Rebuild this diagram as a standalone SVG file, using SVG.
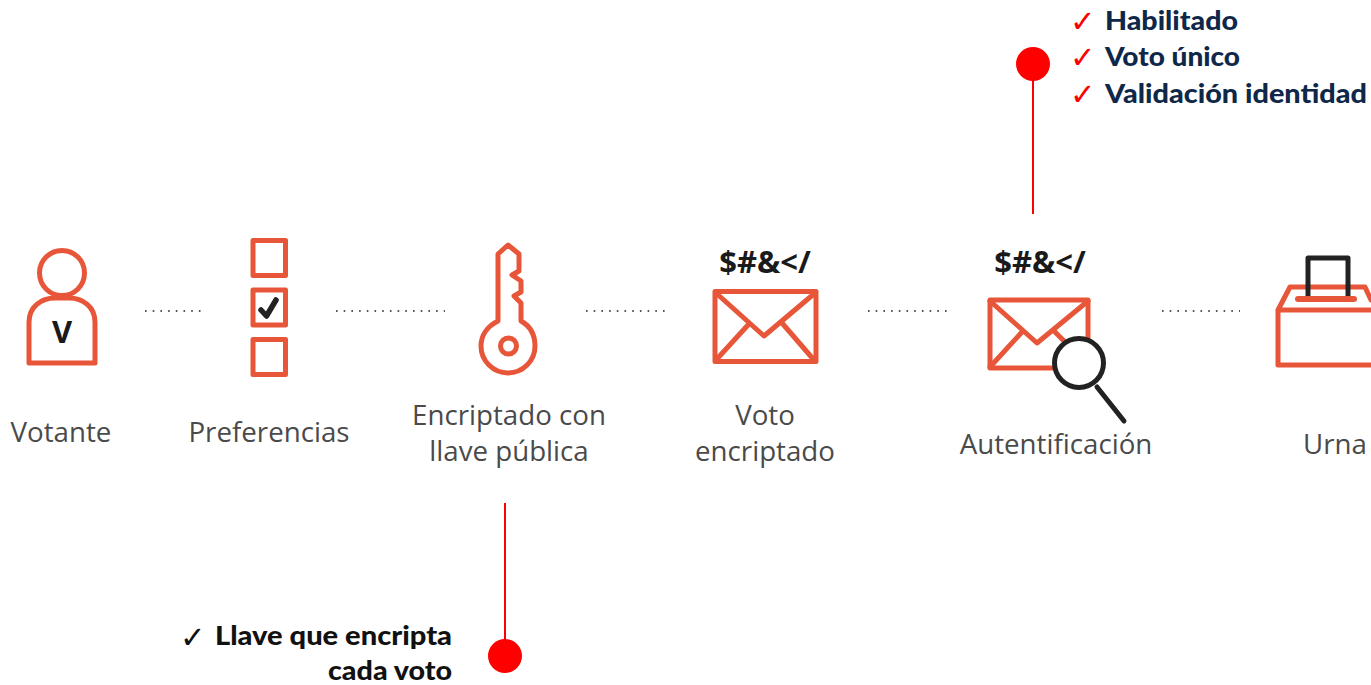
<svg xmlns="http://www.w3.org/2000/svg" width="1371" height="685" viewBox="0 0 1371 685">
<style>
.o{fill:none;stroke:#e8563a;stroke-width:5;stroke-linejoin:round;stroke-linecap:round}
.k{fill:none;stroke:#222;stroke-width:5;stroke-linejoin:round;stroke-linecap:round}
.l{font-family:"Open Sans",sans-serif;font-size:27.7px;fill:#4a4a4a;text-anchor:middle}
.c{font-family:"Open Sans",sans-serif;font-weight:700;font-size:31px;fill:#1a1a1a;text-anchor:middle}
.b{font-family:Lato,"Liberation Sans",sans-serif;font-weight:900;font-size:26px}
.n{fill:#0f2748}
.t{font-family:"DejaVu Sans",sans-serif;font-size:30.5px;font-weight:700}
.d{stroke:#555;stroke-width:2;stroke-dasharray:1.6 6.1;fill:none}
.r{stroke:#f00;stroke-width:2;fill:none}
</style>
<rect width="1371" height="685" fill="#fff"/>
<g id="connectors">
<path class="d" d="M145 311H203"/>
<path class="d" d="M336 311H445"/>
<path class="d" d="M586 311H665"/>
<path class="d" d="M868 311H947"/>
<path class="d" d="M1162 311H1240"/>
<path class="r" d="M1033 80V214"/>
<path class="r" d="M505 503V640"/>
</g>
<g id="votante">
<circle class="o" cx="62" cy="273" r="22.500"/>
<path class="o" d="M29 363V322C29 307 41 298 55 298H69C83 298 95 307 95 322V363Z"/>
<text class="c" x="62" y="343" style="font-size:31px">V</text>
<text class="l" x="61" y="442">Votante</text>
</g>
<g id="preferencias">
<rect class="o" x="253" y="240.500" width="32.500" height="35"/>
<rect class="o" x="253" y="290" width="32.500" height="35"/>
<rect class="o" x="253" y="339.500" width="32.500" height="35"/>
<path d="M261 310L266.500 316L276 300" fill="none" stroke="#222" stroke-width="5.500" stroke-linecap="round" stroke-linejoin="round"/>
<text class="l" x="269" y="442">Preferencias</text>
</g>
<g id="encriptado">
<path class="o" d="M498 321V254L508 245L519 254V271L512 275L521 281V292L514 296L521 303V321C530 326 535 335 535 346A27 27 0 0 1 481 346C481 335 488 326 498 321Z"/>
<circle class="o" cx="508.500" cy="346" r="8"/>
<text class="l" x="509" y="425">Encriptado con</text>
<text class="l" x="509" y="461">llave pública</text>
</g>
<g id="voto">
<text class="c" x="765" y="273">$#&amp;&lt;/</text>
<rect class="o" x="715" y="291.500" width="101" height="70"/>
<path class="o" d="M716 293L764 336L815 293M716 360L748 325M814 360L782 323"/>
<text class="l" x="765" y="425">Voto</text>
<text class="l" x="765" y="461">encriptado</text>
</g>
<g id="autentificacion">
<text class="c" x="1040" y="273">$#&amp;&lt;/</text>
<path class="o" d="M1054 368H990V300H1088V338"/>
<path class="o" d="M990 301L1037 343L1088 301M990 367L1022 332M1055 332L1065 342"/>
<circle class="k" cx="1079" cy="363" r="24.500"/>
<path class="k" d="M1097 387L1124 421"/>
<text class="l" x="1056" y="454">Autentificación</text>
</g>
<g id="urna">
<path class="o" d="M1371 310H1278V365H1371M1278 310L1290 287H1365L1371 300"/>
<path class="k" d="M1308 297V258H1348V297"/>
<path class="o" d="M1298 299H1354" style="stroke-width:6"/>
<text class="l" x="1335" y="454">Urna</text>
</g>
<g id="nota-autentificacion">
<circle cx="1033" cy="64" r="17" fill="#f00"/>
<text class="t" x="1070" y="32" fill="#f00">✓</text>
<text class="t" x="1070" y="68" fill="#f00">✓</text>
<text class="t" x="1070" y="105" fill="#f00">✓</text>
<text class="b n" x="1105" y="30" textLength="133" lengthAdjust="spacingAndGlyphs">Habilitado</text>
<text class="b n" x="1105" y="66" textLength="135" lengthAdjust="spacingAndGlyphs">Voto único</text>
<text class="b n" x="1105" y="103" textLength="262" lengthAdjust="spacingAndGlyphs">Validación identidad</text>
</g>
<g id="nota-llave">
<circle cx="505" cy="656" r="17" fill="#f00"/>
<text class="t" x="180" y="648" fill="#111">✓</text>
<text class="b" x="215" y="645" fill="#111" textLength="237" lengthAdjust="spacingAndGlyphs">Llave que encripta</text>
<text class="b" x="328" y="680" fill="#111" textLength="124" lengthAdjust="spacingAndGlyphs">cada voto</text>
</g>
</svg>
